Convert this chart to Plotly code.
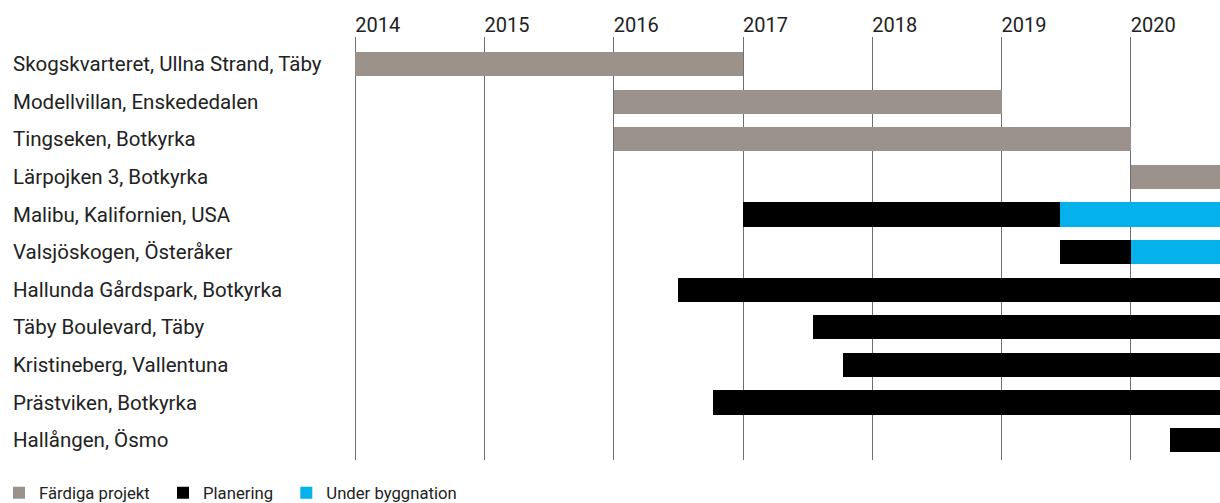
import plotly.graph_objects as go

projects = [
    "Skogskvarteret, Ullna Strand, Täby",
    "Modellvillan, Enskededalen",
    "Tingseken, Botkyrka",
    "Lärpojken 3, Botkyrka",
    "Malibu, Kalifornien, USA",
    "Valsjöskogen, Österåker",
    "Hallunda Gårdspark, Botkyrka",
    "Täby Boulevard, Täby",
    "Kristineberg, Vallentuna",
    "Prästviken, Botkyrka",
    "Hallången, Ösmo",
]

# Färdiga projekt (completed)
done_rows = [0, 1, 2, 3]
done_start = [2014.0, 2016.0, 2016.0, 2020.0]
done_end = [2017.0, 2019.0, 2020.0, 2020.7]

# Planering (planning)
plan_rows = [4, 5, 6, 7, 8, 9, 10]
plan_start = [2017.0, 2019.45, 2016.5, 2017.54, 2017.77, 2016.77, 2020.3]
plan_end = [2019.45, 2020.0, 2020.7, 2020.7, 2020.7, 2020.7, 2020.7]

# Under byggnation (under construction)
build_rows = [4, 5]
build_start = [2019.45, 2020.0]
build_end = [2020.7, 2020.7]

years = [2014, 2015, 2016, 2017, 2018, 2019, 2020]

GRAY = "#9b928c"
BLACK = "#000000"
BLUE = "#05b1eb"
FONT = "Roboto"
NB = "\u00a0\u00a0"

fig = go.Figure()
for name, rows, s, e, col in [
    ("Färdiga projekt" + NB, done_rows, done_start, done_end, GRAY),
    ("Planering" + NB, plan_rows, plan_start, plan_end, BLACK),
    ("Under byggnation", build_rows, build_start, build_end, BLUE),
]:
    fig.add_trace(go.Bar(
        name=name,
        y=rows,
        base=s,
        x=[b - a for a, b in zip(s, e)],
        orientation="h",
        marker=dict(color=col, line=dict(width=0)),
        width=0.64,
    ))

W, H = 1220, 503
L = 9
fig.update_layout(
    width=W, height=H,
    margin=dict(l=L, r=0, t=37, b=43, autoexpand=False),
    plot_bgcolor="white", paper_bgcolor="white",
    barmode="overlay",
    bargap=0,
    font=dict(family=FONT, color="#222222"),
    showlegend=True,
    legend=dict(
        orientation="h",
        x=-10 / (W - L), xanchor="left",
        y=-0.078, yanchor="middle",
        font=dict(size=16.7, family=FONT, color="#222222"),
        itemwidth=30,
        traceorder="normal",
    ),
    xaxis=dict(
        domain=[(354 - L) / (W - L), 1],
        range=[2013.99, 2020.69],
        side="top",
        tickvals=years,
        ticktext=[str(y) for y in years],
        ticklabelposition="outside right",
        ticks="",
        showgrid=True,
        gridcolor="#6f6f6f",
        gridwidth=1,
        zeroline=False,
        showline=False,
        tickfont=dict(size=20, family=FONT, color="#222222"),
    ),
    yaxis=dict(
        anchor="free",
        position=0,
        range=[10.53, -0.72],
        tickvals=list(range(len(projects))),
        ticktext=projects,
        ticklabelposition="inside",
        ticks="",
        showgrid=False,
        zeroline=False,
        showline=False,
        tickfont=dict(size=20.5, family=FONT, color="#222222"),
    ),
)

fig.write_html("out.html", config={"displayModeBar": False},
               post_script="document.body.style.margin='0';")
